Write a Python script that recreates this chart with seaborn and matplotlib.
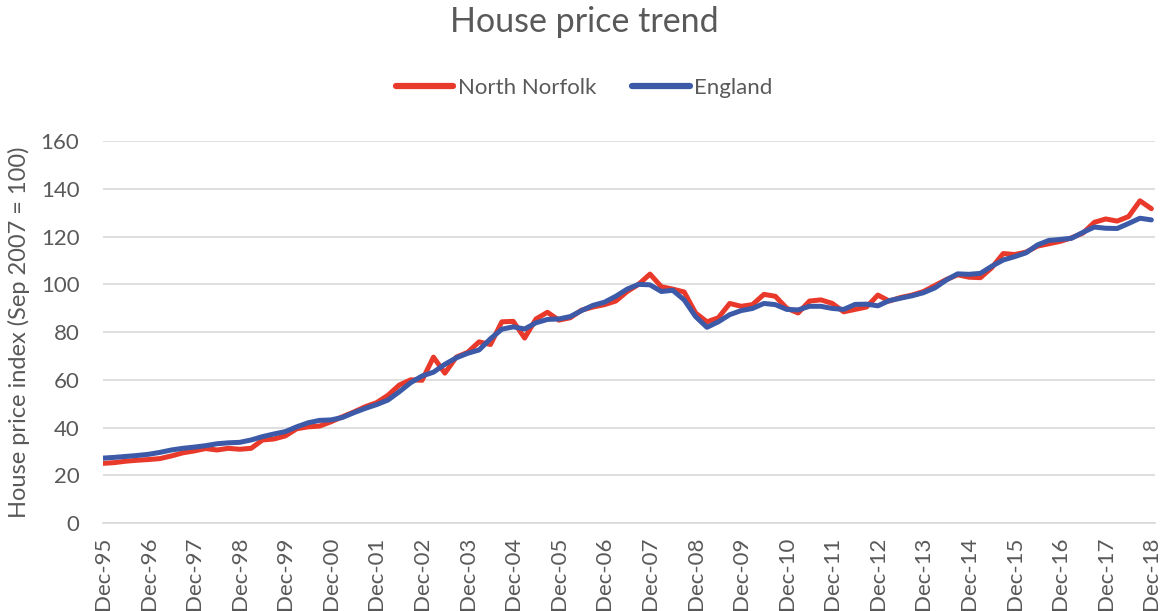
import matplotlib
matplotlib.use("Agg")
import matplotlib.pyplot as plt
import pandas as pd
import numpy as np
import seaborn as sb

# quarterly readings, months since Dec-95
months = np.arange(0, 277, 3)

north_norfolk = [25.0, 25.3, 25.9, 26.3, 26.6, 27.0, 28.1, 29.4, 30.2, 31.2, 30.6, 31.3,
                 30.9, 31.3, 34.8, 35.2, 36.5, 39.5, 40.3, 40.6, 42.4, 44.5, 46.5, 48.7,
                 50.4, 53.5, 57.8, 60.0, 59.8, 69.5, 62.8, 69.5, 71.5, 75.9, 74.8, 84.3,
                 84.5, 77.5, 85.5, 88.3, 85.0, 86.0, 89.2, 90.5, 91.5, 93.0, 97.0, 100.0,
                 104.3, 99.0, 98.0, 96.8, 88.0, 84.3, 86.0, 92.0, 90.8, 91.5, 95.8, 95.0,
                 90.0, 88.0, 93.0, 93.5, 92.0, 88.5, 89.5, 90.5, 95.5, 93.0, 94.5, 95.5,
                 97.0, 99.5, 102.0, 104.0, 103.0, 102.8, 107.0, 112.9, 112.5, 113.5, 116.0, 117.0,
                 118.0, 119.5, 121.5, 126.0, 127.4, 126.5, 128.4, 135.0, 131.7]

england = [27.2, 27.5, 27.9, 28.3, 28.8, 29.6, 30.6, 31.3, 31.8, 32.4, 33.2, 33.6,
           33.8, 34.8, 36.2, 37.3, 38.3, 40.3, 42.0, 43.0, 43.2, 44.2, 46.2, 48.0,
           49.6, 51.5, 55.0, 58.8, 61.6, 63.2, 66.5, 69.2, 71.1, 72.5, 77.2, 81.2,
           82.2, 81.3, 83.9, 85.3, 85.5, 86.5, 89.0, 91.2, 92.5, 95.0, 98.0, 100.0,
           99.8, 97.0, 97.5, 93.5, 86.5, 82.0, 84.3, 87.3, 89.0, 89.9, 92.0, 91.5,
           89.5, 89.3, 90.8, 90.8, 89.9, 89.5, 91.6, 91.7, 91.0, 93.2, 94.2, 95.2,
           96.5, 98.5, 101.8, 104.4, 104.2, 104.6, 107.6, 110.2, 111.6, 113.2, 116.5, 118.4,
           118.8, 119.3, 121.8, 124.0, 123.5, 123.4, 125.5, 127.7, 127.0]

tick_labels = ["Dec-95", "Dec-96", "Dec-97", "Dec-98", "Dec-99", "Dec-00", "Dec-01", "Dec-02",
               "Dec-03", "Dec-04", "Dec-05", "Dec-06", "Dec-07", "Dec-08", "Dec-09", "Dec-10",
               "Dec-11", "Dec-12", "Dec-13", "Dec-14", "Dec-15", "Dec-16", "Dec-17", "Dec-18"]

df = pd.DataFrame({"month": months, "North Norfolk": north_norfolk, "England": england})
df = df.melt(id_vars="month", var_name="area", value_name="index")

sb.set_theme(style="white")
plt.rcParams["font.family"] = ["Lato", "DejaVu Sans"]
grey = "#595959"

fig = plt.figure(figsize=(11.68, 6.11), dpi=100)
ax = fig.add_axes([0.0882, 0.144, 0.9008, 0.625])

ax = sb.lineplot(data=df, x="month", y="index", hue="area",
                 palette={"North Norfolk": "#e8392a", "England": "#3c5aa8"},
                 linewidth=3.6, errorbar=None, ax=ax, legend=False)

ax.set_xlim(0, 277)
ax.set_ylim(0, 160)
ax.set_yticks(range(0, 161, 20))
ax.set_xticks(range(0, 277, 12))
ax.set_xticklabels(tick_labels, rotation=90)
ax.tick_params(axis="x", colors="#d9d9d9", length=6, width=1, labelcolor=grey, labelsize=16, pad=4)
ax.tick_params(axis="y", length=0, labelcolor=grey, labelsize=16, pad=17)
ax.grid(axis="y", color="#d9d9d9", linewidth=1.2)
for s in ["top", "right", "left"]:
    ax.spines[s].set_visible(False)
ax.spines["bottom"].set_color("#d9d9d9")
ax.spines["bottom"].set_linewidth(1.2)

ax.set_xlabel("")
ax.set_ylabel("House price index (Sep 2007 = 100)", color=grey, fontsize=17, labelpad=8)

fig.suptitle("House price trend", y=0.99, fontsize=24.5, color=grey)

handles = [plt.Line2D([], [], color="#e8392a", linewidth=4.5, solid_capstyle="round"),
           plt.Line2D([], [], color="#3c5aa8", linewidth=4.5, solid_capstyle="round")]
fig.legend(handles, ["North Norfolk", "England"], loc="center", bbox_to_anchor=(0.5, 0.856),
           ncol=2, frameon=False, fontsize=16, labelcolor=grey, handlelength=2.6,
           handletextpad=0.2, columnspacing=1.6)

plt.savefig("out.png", dpi=100)
